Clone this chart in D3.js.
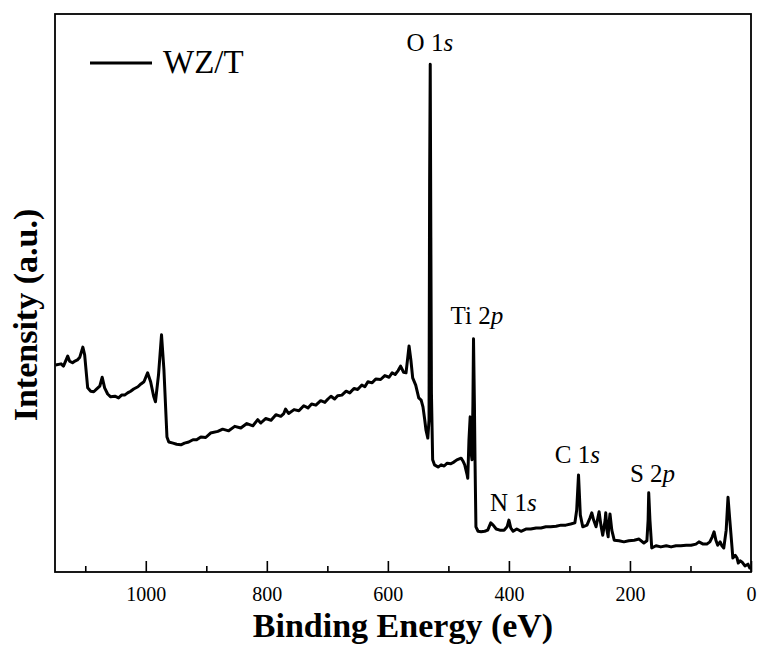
<!DOCTYPE html>
<html>
<head>
<meta charset="utf-8">
<script src="https://cdn.jsdelivr.net/npm/d3@7"></script>
<style>
  body { margin: 0; background: #fff; }
  svg { display: block; font-family: "Liberation Serif", "Times New Roman", serif; }
  svg text { font-family: "Liberation Serif", "Times New Roman", serif; }
</style>
</head>
<body>
<script>
// XPS survey spectrum, binding energy (eV) vs intensity (a.u.)
const energy = [
  1149, 1140, 1136, 1129, 1126, 1121, 1117, 1113, 1109, 1104, 1101, 1096, 1091, 1086, 1081, 1076,
  1072, 1068, 1063, 1058, 1051, 1045, 1040, 1035, 1030, 1025, 1020, 1013, 1008, 1003, 997, 992,
  987, 984, 979, 974, 970, 965, 962, 955, 949, 942, 936, 929, 922, 916, 909, 901,
  893, 881, 873, 863, 853, 843, 833, 823, 815, 810, 802, 793, 785, 777, 772, 769,
  764, 755, 747, 739, 732, 726, 719, 711, 704, 699, 694, 688, 683, 676, 669, 663,
  656, 650, 643, 638, 633, 626, 620, 612, 605, 598, 593, 588, 583, 579, 574, 570,
  565, 562, 559, 554, 549, 545, 542, 539, 537, 534, 532, 531, 530, 529, 528, 526,
  523, 517, 512, 507, 502, 496, 491, 486, 479, 476, 473, 469, 468, 466, 464, 463,
  461, 459.5, 458.5, 457, 456, 454.5, 451, 446, 440, 435, 430, 426, 421, 415, 408, 403,
  400, 397, 393, 387, 380, 372, 364, 355, 347, 339, 331, 322, 314, 306, 298, 291,
  288, 285, 282, 278, 271, 266, 263, 260, 256, 253, 251, 248, 245, 241, 240, 238,
  236, 235, 233, 230, 226, 218, 210, 202, 193, 185, 177, 172, 170, 169, 167, 164,
  157, 149, 140, 132, 124, 116, 107, 99, 91, 86, 79, 73, 68, 64, 61, 58,
  55, 51, 48, 45, 41, 38, 35, 31, 30, 26, 23, 21, 18, 15, 10, 5, 2, 0
];
const intensity = [
  37.1, 37.3, 36.9, 38.7, 37.8, 37.5, 37.8, 38.0, 38.5, 40.3, 38.9, 33.0, 32.4, 32.3, 32.8, 33.3,
  34.9, 33.0, 31.9, 31.4, 31.5, 31.2, 31.7, 31.7, 32.1, 32.4, 32.8, 33.2, 33.7, 34.1, 35.7, 34.1,
  31.5, 30.5, 35.3, 42.5, 36.2, 24.2, 23.3, 23.1, 22.9, 22.8, 23.1, 23.3, 23.7, 23.7, 24.2, 24.1,
  24.9, 25.2, 25.6, 25.3, 26.1, 25.8, 26.6, 26.2, 27.3, 26.7, 27.5, 27.2, 28.2, 27.9, 28.4, 29.2,
  28.4, 29.1, 28.9, 29.8, 29.4, 30.1, 29.9, 30.7, 30.4, 31.0, 31.5, 31.0, 31.6, 31.7, 32.4, 32.1,
  32.9, 32.7, 33.5, 33.2, 34.1, 33.9, 34.6, 34.5, 35.2, 34.9, 35.7, 35.4, 36.1, 36.9, 35.8, 35.7,
  40.5, 38.0, 34.8, 33.5, 31.2, 30.8, 29.6, 27.2, 25.4, 24.0, 27.2, 70.0, 91.0, 60.0, 32.0, 20.1,
  19.2, 18.8, 19.2, 19.0, 19.5, 19.4, 19.7, 20.1, 20.4, 19.9, 19.2, 17.4, 16.8, 23.7, 27.8, 21.9,
  20.1, 30.0, 41.8, 30.0, 20.0, 8.1, 7.3, 7.2, 7.3, 7.5, 8.8, 8.4, 7.7, 7.5, 7.5, 8.1,
  9.3, 7.9, 7.3, 7.7, 7.3, 7.7, 7.7, 7.9, 7.9, 8.1, 8.1, 8.2, 8.4, 8.4, 8.6, 8.8,
  11.1, 17.4, 10.2, 8.1, 8.4, 9.7, 10.6, 9.3, 8.1, 9.7, 10.8, 8.4, 6.6, 9.3, 10.6, 7.5,
  6.3, 8.4, 10.4, 7.5, 5.7, 5.6, 5.4, 5.6, 5.7, 5.9, 5.2, 5.6, 9.3, 14.2, 9.3, 4.3,
  4.7, 4.5, 4.7, 4.5, 4.7, 4.7, 4.8, 4.8, 5.0, 5.4, 5.0, 5.0, 5.4, 6.3, 7.2, 5.7,
  4.8, 5.4, 4.7, 4.3, 7.5, 13.4, 9.3, 3.9, 2.5, 3.0, 2.5, 1.6, 2.0, 1.8, 1.1, 1.4, 0.7, 0.7
];

const majorTicks = [1000, 800, 600, 400, 200, 0];
const minorTicks = [1100, 900, 700, 500, 300, 100];

// peak annotations: element, orbital (italic part after the digit), label centre in data units
const peakElements = ["O", "Ti", "N", "C", "S"];
const peakOrbitals = ["1s", "2p", "1s", "1s", "2p"];
const peakLabelEnergy = [530.6, 452.9, 392.6, 286.8, 162.8];
const peakLabelIntensity = [93.4, 44.4, 10.9, 19.5, 16.1];

const seriesName = "WZ/T";

const W = 758, H = 646;
const margin = { left: 55, right: 7, top: 14, bottom: 74 };
const serif = '"Liberation Serif", "Times New Roman", serif';

const svg = d3.select("body").append("svg")
  .attr("width", W)
  .attr("height", H);

const x = d3.scaleLinear()
  .domain([1150, 0])
  .range([margin.left, W - margin.right]);

const y = d3.scaleLinear()
  .domain([0, 100])
  .range([H - margin.bottom, margin.top]);

const data = energy.map((e, i) => [e, intensity[i]]);

svg.append("clipPath").attr("id", "plot-clip")
  .append("rect")
  .attr("x", margin.left).attr("y", margin.top)
  .attr("width", W - margin.left - margin.right)
  .attr("height", H - margin.top - margin.bottom);

const line = d3.line()
  .x(d => x(d[0]))
  .y(d => y(d[1]));

svg.append("path")
  .datum(data)
  .attr("clip-path", "url(#plot-clip)")
  .attr("fill", "none")
  .attr("stroke", "#000")
  .attr("stroke-width", 3)
  .attr("stroke-linejoin", "round")
  .attr("d", line);

// x axis, ticks pointing inward
const xAxis = svg.append("g")
  .attr("transform", `translate(0,${H - margin.bottom})`)
  .call(d3.axisBottom(x).tickValues(majorTicks).tickSize(-11).tickPadding(15).tickFormat(d3.format("d")));
xAxis.select(".domain").remove();
xAxis.selectAll(".tick line").attr("stroke-width", 1.6);
xAxis.selectAll("text")
  .attr("fill", "#000")
  .style("font-family", serif)
  .style("font-size", "20px");

const xMinor = svg.append("g")
  .attr("transform", `translate(0,${H - margin.bottom})`)
  .call(d3.axisBottom(x).tickValues(minorTicks).tickSize(-6).tickFormat(""));
xMinor.select(".domain").remove();
xMinor.selectAll(".tick line").attr("stroke-width", 1.6);

// frame
svg.append("rect")
  .attr("x", margin.left).attr("y", margin.top)
  .attr("width", W - margin.left - margin.right)
  .attr("height", H - margin.top - margin.bottom)
  .attr("fill", "none")
  .attr("stroke", "#000")
  .attr("stroke-width", 1.8);

// axis titles
svg.append("text")
  .attr("x", (margin.left + W - margin.right) / 2)
  .attr("y", 637)
  .attr("text-anchor", "middle")
  .attr("font-size", 34)
  .attr("font-weight", "bold")
  .text("Binding Energy (eV)");

svg.append("text")
  .attr("transform", "translate(37,315) rotate(-90)")
  .attr("text-anchor", "middle")
  .attr("font-size", 34)
  .attr("font-weight", "bold")
  .text("Intensity (a.u.)");

// peak labels
peakElements.forEach((el, i) => {
  const t = svg.append("text")
    .attr("x", x(peakLabelEnergy[i]))
    .attr("y", y(peakLabelIntensity[i]))
    .attr("text-anchor", "middle")
    .attr("font-size", 25);
  t.append("tspan").text(el + " " + peakOrbitals[i][0]);
  t.append("tspan").attr("font-style", "italic").text(peakOrbitals[i].slice(1));
});

// legend
const legend = svg.append("g");
legend.append("line")
  .attr("x1", 90).attr("x2", 152)
  .attr("y1", 63).attr("y2", 63)
  .attr("stroke", "#000")
  .attr("stroke-width", 2.8);
legend.append("text")
  .attr("x", 163).attr("y", 73)
  .attr("font-size", 33)
  .text(seriesName);
</script>
</body>
</html>
